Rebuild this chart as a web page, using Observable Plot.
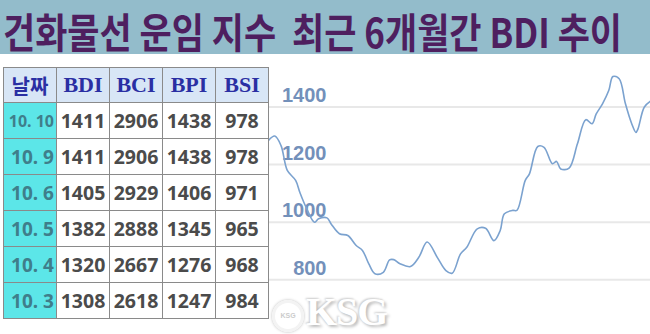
<!DOCTYPE html>
<html>
<head>
<meta charset="utf-8">
<script src="https://cdn.jsdelivr.net/npm/d3@7"></script>
<script src="https://cdn.jsdelivr.net/npm/@observablehq/plot@0.6"></script>
<style>
  html, body { margin: 0; padding: 0; background: #fff; }
  #wrap { position: relative; width: 650px; height: 334px; overflow: hidden; background: #fff; }
  #titlebar { position: absolute; left: 0; top: 0; width: 650px; height: 54px; background: #93bccb; }
  #titlebar svg { display: block; overflow: visible; }
  #chart { position: absolute; left: 0; top: 0; }
  table { position: absolute; left: 3px; top: 67px; border-collapse: collapse; table-layout: fixed; background: #fff; }
  td, th { border: 1px solid #8a8a8a; padding: 0; text-align: center; white-space: nowrap; overflow: hidden; }
  th { height: 34px; background: #d8e6f6; color: #2a2fa3; font-family: "Liberation Serif", serif; font-weight: bold; font-size: 22px; }
  th.k { font-family: "Noto Sans CJK KR", sans-serif; font-size: 20px; }
  td { height: 35px; color: #4b4b4b; font-family: "Noto Sans", sans-serif; font-weight: bold; font-size: 19.5px; }
  td.d { background: #5ce6e8; color: #3f7e8b; font-size: 19px; text-align: right; padding-right: 2px; }
  td.d.s { font-size: 16px; }
  #wm { position: absolute; left: 306px; top: 291px; font-family: "Liberation Serif", serif; font-weight: bold; font-size: 40px; line-height: 42px; color: #fff; text-shadow: 2px 2px 3px #bbb, -1px -1px 2px #ccc; letter-spacing: -1px; }
  #wheel { position: absolute; left: 272px; top: 300px; width: 26px; height: 26px; border-radius: 50%; border: 3px solid #f3f3f3; box-shadow: 0 0 3px #bbb; font: bold 7px "Liberation Sans", sans-serif; color: #ccc; text-align: center; line-height: 26px; }
</style>
</head>
<body>
<div id="wrap">
  <div id="titlebar">
    <svg width="650" height="54" viewBox="0 0 650 54">
      <text id="title" x="3" y="42.1" transform="scale(1,1.14)" textLength="619" lengthAdjust="spacingAndGlyphs" font-family="Noto Sans CJK KR, sans-serif" font-weight="700" font-size="36" fill="#4e1f5f"></text>
    </svg>
  </div>
  <div id="chart"></div>
  <table id="tbl"></table>
  <div id="wheel">KSG</div>
  <div id="wm">KSG</div>
</div>
<script>
const titleText = "건화물선 운임 지수\u00a0\u00a0최근 6개월간 BDI 추이";

// Table data
const tableHeaders = ["날짜", "BDI", "BCI", "BPI", "BSI"];
const tableDates = ["10. 10", "10. 9", "10. 6", "10. 5", "10. 4", "10. 3"];
const tableBDI = [1411, 1411, 1405, 1382, 1320, 1308];
const tableBCI = [2906, 2906, 2929, 2888, 2667, 2618];
const tableBPI = [1438, 1438, 1406, 1345, 1276, 1247];
const tableBSI = [978, 978, 971, 965, 968, 984];

// Line chart data (last 6 months of BDI)
const dates = ["2017-04-10","2017-04-13","2017-04-16","2017-04-19","2017-04-23","2017-04-25","2017-04-28",
  "2017-05-02","2017-05-04","2017-05-08","2017-05-10","2017-05-14","2017-05-18","2017-05-22","2017-05-25",
  "2017-05-28","2017-05-31","2017-06-04","2017-06-07","2017-06-09","2017-06-12","2017-06-17","2017-06-21",
  "2017-06-25","2017-06-30","2017-07-04","2017-07-07","2017-07-11","2017-07-14","2017-07-19","2017-07-23",
  "2017-07-27","2017-07-30","2017-08-01","2017-08-05","2017-08-07","2017-08-11","2017-08-13","2017-08-17",
  "2017-08-20","2017-08-24","2017-08-26","2017-08-28","2017-09-01","2017-09-05","2017-09-09","2017-09-12",
  "2017-09-14","2017-09-17","2017-09-20","2017-09-22","2017-09-25","2017-09-28","2017-10-01","2017-10-03",
  "2017-10-04","2017-10-07","2017-10-10"];
const bdi = [1284,1299,1266,1180,1145,1104,1052,
  1000,1012,1015,994,960,954,919,902,
  856,821,826,869,870,856,846,878,
  931,876,832,823,890,913,977,979,
  936,971,1029,1041,1041,1145,1168,1263,
  1260,1203,1211,1185,1188,1272,1356,1342,
  1376,1411,1457,1506,1498,1411,1342,1312,
  1324,1399,1420];
const yTicks = [800, 1000, 1200, 1400];
const xStart = "2017-04-10", xEnd = "2017-10-10";

document.getElementById("title").textContent = titleText;

// Build table
const tbl = document.getElementById("tbl");
const colgroup = document.createElement("colgroup");
for (let i = 0; i < 5; i++) { const c = document.createElement("col"); c.style.width = "53px"; colgroup.appendChild(c); }
tbl.appendChild(colgroup);
const hr = document.createElement("tr");
tableHeaders.forEach((h, i) => { const th = document.createElement("th"); th.textContent = h; if (i === 0) th.className = "k"; hr.appendChild(th); });
tbl.appendChild(hr);
tableDates.forEach((d, i) => {
  const tr = document.createElement("tr");
  const vals = [d, tableBDI[i], tableBCI[i], tableBPI[i], tableBSI[i]];
  vals.forEach((v, j) => {
    const td = document.createElement("td");
    td.textContent = v;
    if (j === 0) td.className = "d" + (d.length > 5 ? " s" : "");
    tr.appendChild(td);
  });
  tbl.appendChild(tr);
});

// Chart
const parse = d3.utcParse("%Y-%m-%d");
const data = dates.map((d, i) => ({date: parse(d), value: bdi[i]}));
const chart = Plot.plot({
  width: 650,
  height: 334,
  marginLeft: 268,
  marginRight: 0,
  marginTop: 106.5,
  marginBottom: 54.7,
  style: {background: "transparent", overflow: "visible", fontFamily: "'Liberation Sans', Arial, sans-serif"},
  x: {domain: [parse(xStart), parse(xEnd)], axis: null},
  y: {domain: [800, 1400], axis: null},
  marks: [
    Plot.ruleY(yTicks, {stroke: "#e8e8e8", strokeWidth: 2}),
    Plot.axisY(yTicks, {anchor: "left", label: null, tickSize: 0, tickPadding: 0, dx: 58, dy: -11.5, fontSize: 20, fontWeight: "bold", color: "#7390ba", tickFormat: d => String(d)}),
    Plot.line(data, {x: "date", y: "value", curve: "catmull-rom", stroke: "#7ba2cf", strokeWidth: 1.6})
  ]
});
document.getElementById("chart").appendChild(chart);
</script>
</body>
</html>
